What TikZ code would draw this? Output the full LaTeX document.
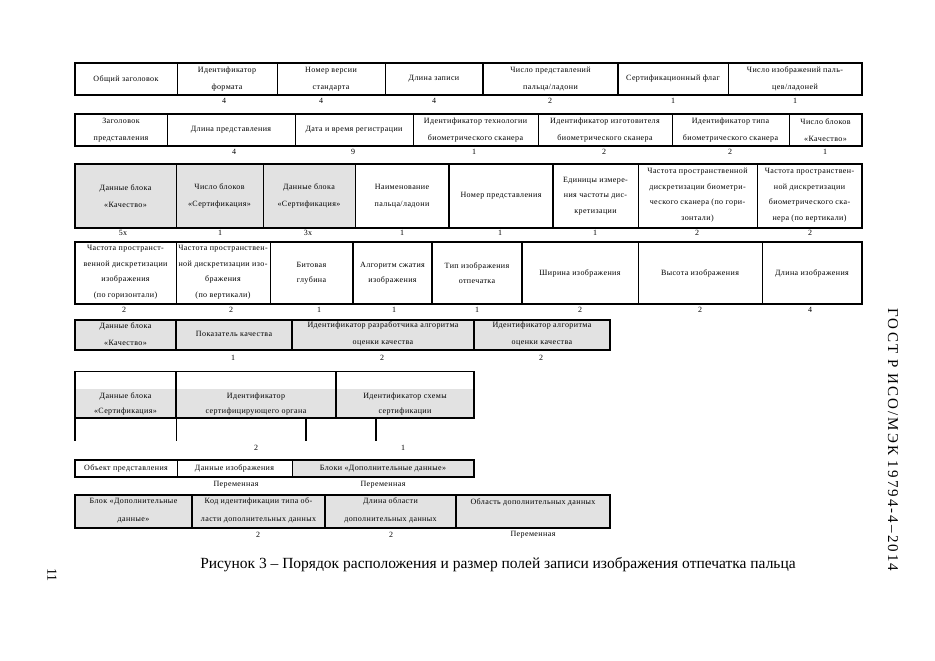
\documentclass[tikz,border=0pt]{standalone}
\usepackage{fontspec}
\setmainfont{Liberation Serif}
\newfontfamily\cellfnt[LetterSpace=5]{Liberation Serif}
\newfontfamily\gostfnt[LetterSpace=14]{Liberation Serif}
\definecolor{cellgray}{HTML}{E2E2E2}
\tikzset{
  ct/.style={font=\cellfnt\fontsize{8}{15.5}\selectfont, align=center, inner sep=0pt},
  ctw/.style={font=\cellfnt\fontsize{8}{17.5}\selectfont, align=center, inner sep=0pt},
  num/.style={font=\cellfnt\fontsize{8}{10}\selectfont, inner sep=0pt},
  outerl/.style={line width=2.3pt},
  divl/.style={line width=0.8pt},
  divk/.style={line width=1.8pt},
  gfill/.style={fill=cellgray},
}
\begin{document}
\begin{tikzpicture}[x=1pt,y=-1pt]
\useasboundingbox[fill=white] (0,0) rectangle (935,661);

% ---------------- Row 1
\node[ct] (r1a) at (126,79) {Общий заголовок};
\node[ctw] (r1b) at (227,79) {Идентификатор\\формата};
\node[ctw] (r1c) at (331,79) {Номер версии\\стандарта};
\node[ct] (r1d) at (434,79) {Длина записи};
\node[ctw] (r1e) at (550.5,79) {Число представлений\\пальца/ладони};
\node[ct] (r1f) at (673,79) {Сертификационный флаг};
\node[ctw] (r1g) at (795,79) {Число изображений паль-\\цев/ладоней};
\draw[outerl] (75,63) rectangle (862,95);
\foreach \x in {177,277,385,728} \draw[divl] (\x,63) -- (\x,95);
\foreach \x in {483,618} \draw[divk] (\x,63) -- (\x,95);
\node[num] (n1b) at (224,101) {4};
\node[num] (n1c) at (321,101) {4};
\node[num] (n1d) at (434,101) {4};
\node[num] (n1e) at (550,101) {2};
\node[num] (n1f) at (673,101) {1};
\node[num] (n1g) at (795,101) {1};

% ---------------- Row 2
\node[ctw] (r2a) at (121,130) {Заголовок\\представления};
\node[ct] (r2b) at (231,130) {Длина представления};
\node[ct] (r2c) at (354,130) {Дата и время регистрации};
\node[ctw] (r2d) at (475.5,130) {Идентификатор технологии\\биометрического сканера};
\node[ctw] (r2e) at (605,130) {Идентификатор изготовителя\\биометрического сканера};
\node[ctw] (r2f) at (730.5,130) {Идентификатор типа\\биометрического сканера};
\node[ctw] (r2g) at (825.5,130) {Число блоков\\«Качество»};
\draw[outerl] (75,114) rectangle (862,146);
\foreach \x in {167,295,413,538,672,789} \draw[divl] (\x,114) -- (\x,146);
\node[num] (n2b) at (234,152) {4};
\node[num] (n2c) at (353,152) {9};
\node[num] (n2d) at (474,152) {1};
\node[num] (n2e) at (604,152) {2};
\node[num] (n2f) at (730,152) {2};
\node[num] (n2g) at (825,152) {1};

% ---------------- Row 3
\fill[gfill] (75,164) rectangle (355,228);
\node[ctw] (r3a) at (125.5,196) {Данные блока\\«Качество»};
\node[ctw] (r3b) at (219.5,196) {Число блоков\\«Сертификация»};
\node[ctw] (r3c) at (309,196) {Данные блока\\«Сертификация»};
\node[ctw] (r3d) at (402,196) {Наименование\\пальца/ладони};
\node[ct] (r3e) at (501,196) {Номер представления};
\node[ct] (r3f) at (595.5,196) {Единицы измере-\\ния частоты дис-\\кретизации};
\node[ct] (r3g) at (697.5,195) {Частота пространственной\\дискретизации биометри-\\ческого сканера (по гори-\\зонтали)};
\node[ct] (r3h) at (809.5,195) {Частота пространствен-\\ной дискретизации\\биометрического ска-\\нера (по вертикали)};
\draw[outerl] (75,164) rectangle (862,228);
\foreach \x in {176,263,355,638,757} \draw[divl] (\x,164) -- (\x,228);
\foreach \x in {449,553} \draw[divk] (\x,164) -- (\x,228);
\node[num] (n3a) at (123,233) {5x};
\node[num] (n3b) at (220,233) {1};
\node[num] (n3c) at (308,233) {3x};
\node[num] (n3d) at (402,233) {1};
\node[num] (n3e) at (500,233) {1};
\node[num] (n3f) at (595,233) {1};
\node[num] (n3g) at (697,233) {2};
\node[num] (n3h) at (810,233) {2};

% ---------------- Row 4
\node[ct] (r4a) at (125.5,272) {Частота пространст-\\венной дискретизации\\изображения\\(по горизонтали)};
\node[ct] (r4b) at (223,272) {Частота пространствен-\\ной дискретизации изо-\\бражения\\(по вертикали)};
\node[ct] (r4c) at (311.5,273) {Битовая\\глубина};
\node[ct] (r4d) at (392.5,273) {Алгоритм сжатия\\изображения};
\node[ct] (r4e) at (477,273) {Тип изображения\\отпечатка};
\node[ct] (r4f) at (580,273) {Ширина изображения};
\node[ct] (r4g) at (700,273) {Высота изображения};
\node[ct] (r4h) at (812,273) {Длина изображения};
\draw[outerl] (75,242) rectangle (862,304);
\foreach \x in {176,270,638,762} \draw[divl] (\x,242) -- (\x,304);
\foreach \x in {353,432,522} \draw[divk] (\x,242) -- (\x,304);
\node[num] (n4a) at (124,310) {2};
\node[num] (n4b) at (231,310) {2};
\node[num] (n4c) at (319,310) {1};
\node[num] (n4d) at (394,310) {1};
\node[num] (n4e) at (477,310) {1};
\node[num] (n4f) at (580,310) {2};
\node[num] (n4g) at (700,310) {2};
\node[num] (n4h) at (810,310) {4};

% ---------------- Row 5
\fill[gfill] (75,320) rectangle (610,350);
\node[ctw] (r5a) at (125.5,334) {Данные блока\\«Качество»};
\node[ct] (r5b) at (234,334) {Показатель качества};
\node[ctw] (r5c) at (383,334) {Идентификатор разработчика алгоритма\\оценки качества};
\node[ctw] (r5d) at (542,334) {Идентификатор алгоритма\\оценки качества};
\draw[outerl] (75,320) rectangle (610,350);
\foreach \x in {176,292,474} \draw[divk] (\x,320) -- (\x,350);
\node[num] (n5b) at (233,358) {1};
\node[num] (n5c) at (382,358) {2};
\node[num] (n5d) at (541,358) {2};

% ---------------- Row 6
\fill[gfill] (75,389) rectangle (474,418);
\node[ct] (r6a) at (125.5,404) {Данные блока\\«Сертификация»};
\node[ct] (r6b) at (256,404) {Идентификатор\\сертифицирующего органа};
\node[ct] (r6c) at (405,404) {Идентификатор схемы\\сертификации};
\draw[divl] (75,371) -- (474,371);
\foreach \x in {75,176,336,474} \draw[divk] (\x,371) -- (\x,418);
\draw[outerl] (74,418) -- (475,418);
\draw[divk] (75,418) -- (75,441);
\draw[divl] (176,418) -- (176,441);
\draw[divk] (306,418) -- (306,441);
\draw[divk] (376,418) -- (376,441);
\node[num] (n6b) at (256,448) {2};
\node[num] (n6c) at (403,448) {1};

% ---------------- Row 7
\fill[gfill] (292,460) rectangle (474,477);
\node[ct] (r7a) at (126,468.5) {Объект представления};
\node[ct] (r7b) at (234.5,468.5) {Данные изображения};
\node[ct] (r7c) at (383,468.5) {Блоки «Дополнительные данные»};
\draw[outerl] (75,460) rectangle (474,477);
\foreach \x in {177,292} \draw[divl] (\x,460) -- (\x,477);
\node[num] (n7b) at (236,485) {Переменная};
\node[num] (n7c) at (383,485) {Переменная};

% ---------------- Row 8
\fill[gfill] (75,495) rectangle (610,528);
\node[ctw] (r8a) at (133.5,510.5) {Блок «Дополнительные\\данные»};
\node[ctw] (r8b) at (258.5,510.5) {Код идентификации типа об-\\ласти дополнительных данных};
\node[ctw] (r8c) at (390.5,510.5) {Длина области\\дополнительных данных};
\node[ct] (r8d) at (533,502) {Область дополнительных данных};
\draw[outerl] (75,495) rectangle (610,528);
\foreach \x in {192,325,456} \draw[divk] (\x,495) -- (\x,528);
\node[num] (n8b) at (258,535) {2};
\node[num] (n8c) at (391,535) {2};
\node[num] (n8d) at (533,535) {Переменная};

% ---------------- Caption and margins
\node[font=\fontsize{15.5}{17}\selectfont, inner sep=0pt] (cap) at (498,565)
  {Рисунок 3 – Порядок расположения и размер полей записи изображения отпечатка пальца};
\node[font=\gostfnt\fontsize{15}{17}\selectfont, inner sep=0pt, rotate=-90] (gost) at (893,440)
  {ГОСТ Р ИСО/МЭК 19794-4–2014};
\node[font=\fontsize{14}{16}\selectfont, inner sep=0pt, rotate=-90] (pg) at (52,575) {11};
\end{tikzpicture}
\end{document}
